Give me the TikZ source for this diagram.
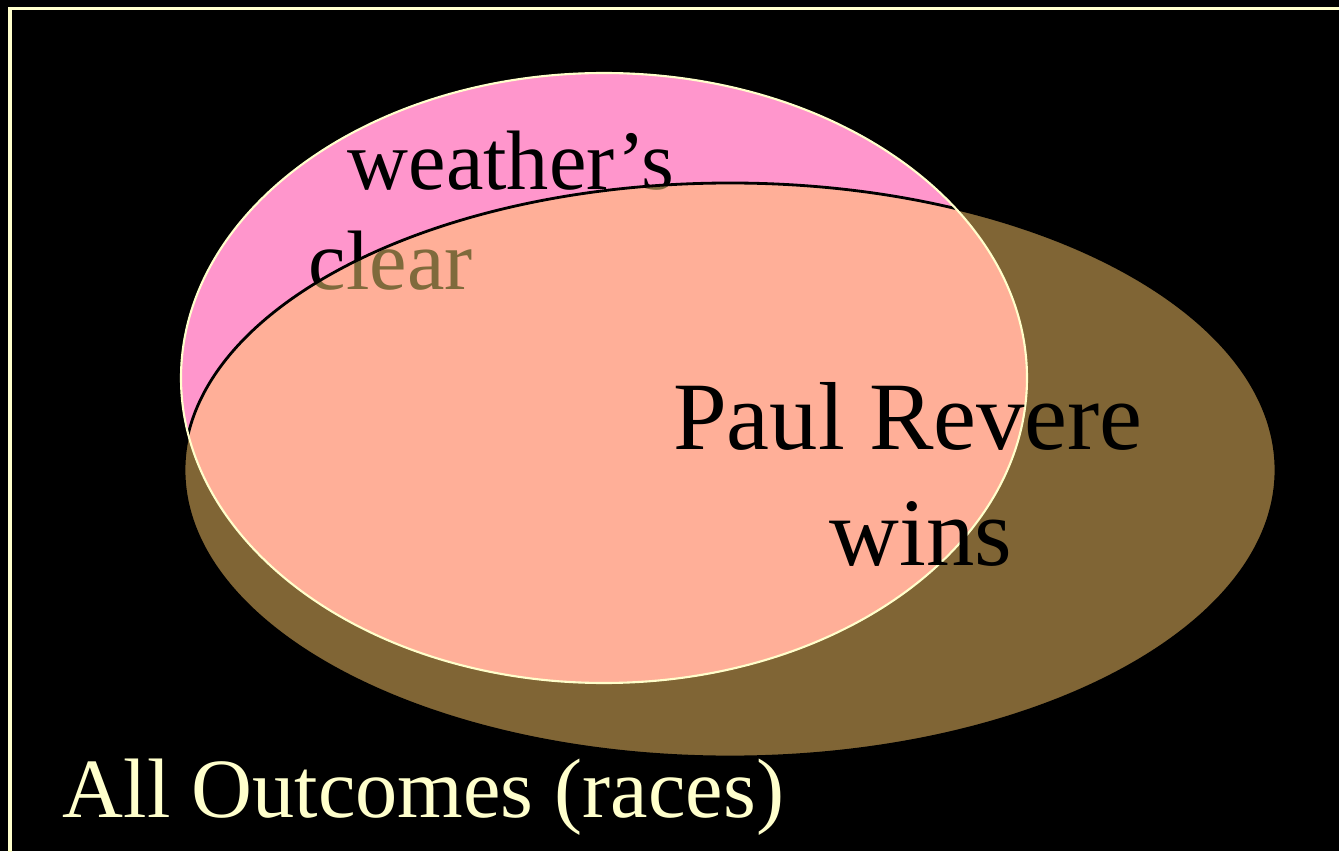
\documentclass[tikz,border=0pt]{standalone}
\usepackage{xcolor}
\usepackage{fontspec}
\setmainfont{Liberation Serif}
\usepackage{tikz}
\usetikzlibrary{positioning}
\definecolor{mypink}{RGB}{255,150,204}
\definecolor{mysalmon}{RGB}{255,175,152}
\definecolor{mybrown}{RGB}{128,101,53}
\definecolor{myolive}{RGB}{127,106,60}
\definecolor{myyellow}{RGB}{255,255,204}
\tikzset{
  bigtext/.style={inner sep=0pt, anchor=base west,
    font=\fontsize{24}{28}\selectfont},
  wintext/.style={inner sep=0pt, anchor=base,
    font=\fontsize{27.5}{31}\selectfont, text=black},
  edgeline/.style={draw=myyellow, line width=1pt}
}
\newcommand{\pinkpath}{(6.04,4.73) ellipse [x radius=4.23, y radius=3.05]}
\newcommand{\brownpath}{(7.30,3.81) ellipse [x radius=5.46, y radius=2.87]}
\newcommand{\weathertext}[1]{%
  \node[bigtext, text=#1] (wx) at (3.47,6.61) {weather’s};
  \node[bigtext, text=#1] (cl) at (3.08,5.61) {clear};}

\begin{document}
\begin{tikzpicture}
  % background and frame
  \fill[black] (0,0) rectangle (13.39,8.51);
  \useasboundingbox (0,0) rectangle (13.39,8.51);
  \clip (0,0) rectangle (13.39,8.51);
  \draw[edgeline] (0.10,-1) -- (0.10,8.425) -- (14,8.425);

  % weather's clear
  \fill[mypink] \pinkpath;
  \weathertext{black}

  % Paul Revere wins, with overlap
  \fill[mybrown] \brownpath;
  \begin{scope}
    \clip \pinkpath;
    \fill[mysalmon] \brownpath;
  \end{scope}
  \begin{scope}
    \clip \brownpath;
    \weathertext{myolive}
  \end{scope}
  \draw[black, line width=0.8pt] \brownpath;
  \draw[myyellow, line width=0.6pt] \pinkpath;

  \node[wintext] (pr) at (9.08,4.01) {Paul Revere};
  \node[wintext] (wn) at (9.21,2.86) {wins};

  % all outcomes
  \node[bigtext, text=myyellow] (all) at (0.62,0.34) {All Outcomes (races)};
\end{tikzpicture}
\end{document}
